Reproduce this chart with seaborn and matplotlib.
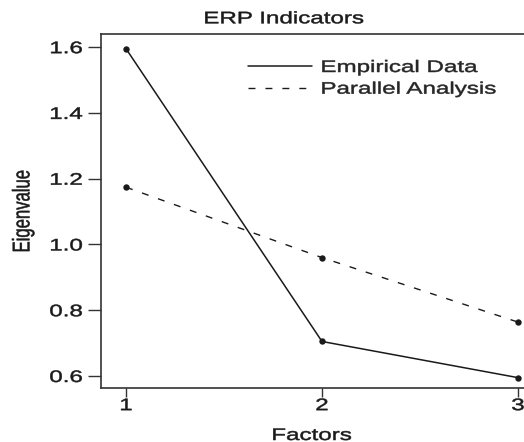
import matplotlib
matplotlib.use("Agg")
import matplotlib.pyplot as plt
import seaborn as sns
import pandas as pd
from matplotlib.lines import Line2D
from matplotlib import patheffects as pe
from matplotlib.transforms import Affine2D

factors = [1, 2, 3]
empirical = [1.595, 0.705, 0.595]
parallel = [1.174, 0.960, 0.764]
series_names = ["Empirical Data", "Parallel Analysis"]
yticks = [0.6, 0.8, 1.0, 1.2, 1.4, 1.6]
xticks = [1, 2, 3]

df = pd.DataFrame({
    "Factors": factors * 2,
    "Eigenvalue": empirical + parallel,
    "Series": [series_names[0]] * 3 + [series_names[1]] * 3,
})


class HStretch(pe.AbstractPathEffect):
    """Widen glyphs horizontally (the reference image is stretched)."""

    def __init__(self, sx=1.4, anchor="center", stroke=0.35):
        super().__init__()
        self.sx = sx
        self.anchor = anchor
        self.stroke = stroke

    def draw_path(self, renderer, gc, tpath, affine, rgbFace=None):
        ext = tpath.get_extents(affine)
        if self.anchor == "left":
            x0 = ext.x0
        elif self.anchor == "right":
            x0 = ext.x1
        else:
            x0 = 0.5 * (ext.x0 + ext.x1)
        aff = affine + Affine2D().translate(-x0, 0).scale(self.sx, 1).translate(x0, 0)
        gc0 = renderer.new_gc()
        gc0.copy_properties(gc)
        gc0.set_linewidth(self.stroke)
        if rgbFace is not None:
            gc0.set_foreground(rgbFace)
        renderer.draw_path(gc0, tpath, aff, rgbFace)
        gc0.restore()


sns.set_style("ticks")
plt.rcParams["font.family"] = ["Liberation Sans", "DejaVu Sans"]

fig = plt.figure(figsize=(5.24, 4.42), dpi=100)
ax = fig.add_axes([101 / 524, 54 / 442, 442 / 524, 354 / 442])

col = "#1a1a1a"
dash = (0, (5.0, 7.2))
sns.lineplot(data=df[df.Series == series_names[0]], x="Factors", y="Eigenvalue",
             ax=ax, color=col, lw=1.1, marker="o", markersize=4.6,
             markeredgewidth=0, legend=False)
sns.lineplot(data=df[df.Series == series_names[1]], x="Factors", y="Eigenvalue",
             ax=ax, color=col, lw=1.0, marker="o", markersize=4.6,
             markeredgewidth=0, legend=False, linestyle=dash)

ax.set_xlim(0.872, 3.128)
ax.set_ylim(0.5635, 1.64)
ax.set_xticks(xticks)
ax.set_xticklabels([str(x) for x in xticks])
ax.set_yticks(yticks)
ax.set_yticklabels([f"{y:.1f}" for y in yticks])
ax.tick_params(axis="both", direction="out", width=1.0,
               color="#333333", labelsize=12, labelcolor="#1a1a1a")
ax.tick_params(axis="y", length=9.4, pad=4.0)
ax.tick_params(axis="x", length=6.5, pad=0.8)
for s in ax.spines.values():
    s.set_color("#333333")
    s.set_linewidth(1.2)

ax.set_xlabel("Factors", fontsize=12, color="#1a1a1a", va="baseline")
ax.xaxis.set_label_coords(0.477, (388 - 440) / 354)
ax.set_ylabel("Eigenvalue", fontsize=12, color="#1a1a1a", va="center")
ax.yaxis.set_label_coords((23 - 101) / 442, 0.5)

title = fig.text(284 / 524, 1 - 23.3 / 442, "ERP Indicators", ha="center",
                 va="baseline", fontsize=12, color="#1a1a1a")

handles = [Line2D([], [], color=col, lw=1.1),
           Line2D([], [], color=col, lw=1.0, linestyle=dash)]
leg = ax.legend(handles, series_names, loc="upper left",
                bbox_to_anchor=((248 - 101) / 442, (388 - 60) / 354),
                frameon=False, fontsize=12, handlelength=3.84, handletextpad=0.54,
                labelspacing=0.4, borderaxespad=0, borderpad=0)

fig.canvas.draw()
for t in ax.get_yticklabels():
    t.set_path_effects([HStretch(1.45, "right")])
for t in ax.get_xticklabels():
    t.set_path_effects([HStretch(1.45, "center")])
for t in leg.get_texts():
    t.set_path_effects([HStretch(1.45, "left")])
ax.xaxis.label.set_path_effects([HStretch(1.45, "center")])
ax.yaxis.label.set_path_effects([HStretch(1.45, "center")])
title.set_path_effects([HStretch(1.45, "center")])

fig.savefig("out.png", dpi=100)
